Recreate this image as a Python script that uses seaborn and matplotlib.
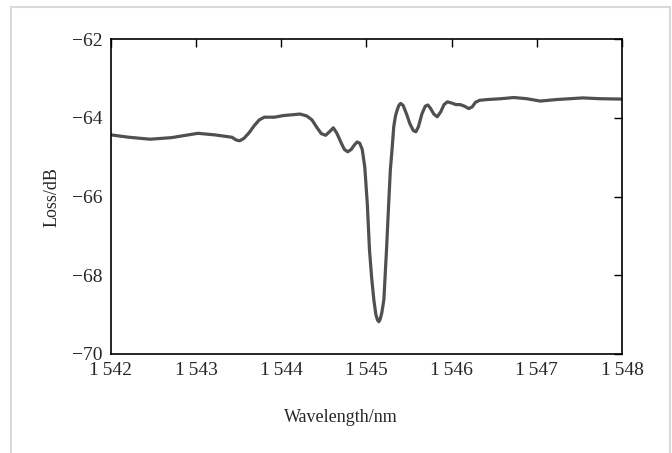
import numpy as np
import pandas as pd
import matplotlib
matplotlib.use('Agg')
import matplotlib.pyplot as plt
from matplotlib.patches import Rectangle
import seaborn as sns

sns.set_style('white')
plt.rcParams['font.family'] = ['Liberation Serif', 'DejaVu Serif']
plt.rcParams['axes.unicode_minus'] = True

# Traced loss spectrum (wavelength in nm, loss in dB)
wavelength = [1542.00, 1542.21, 1542.46, 1542.71, 1543.02, 1543.22, 1543.42, 1543.47,
              1543.51, 1543.56, 1543.62, 1543.68, 1543.74, 1543.80, 1543.92, 1544.02,
              1544.12, 1544.22, 1544.30, 1544.36, 1544.42, 1544.47, 1544.52, 1544.57,
              1544.61, 1544.65, 1544.70, 1544.74, 1544.78, 1544.82, 1544.86, 1544.89,
              1544.92, 1544.95, 1544.98, 1545.01, 1545.035, 1545.06, 1545.086, 1545.11,
              1545.13, 1545.145, 1545.16, 1545.18, 1545.204, 1545.235, 1545.26, 1545.28,
              1545.30, 1545.32, 1545.34, 1545.36, 1545.38, 1545.40, 1545.43, 1545.47,
              1545.51, 1545.55, 1545.58, 1545.61, 1545.65, 1545.69, 1545.72, 1545.75,
              1545.79, 1545.83, 1545.87, 1545.91, 1545.95, 1546.00, 1546.05, 1546.10,
              1546.15, 1546.20, 1546.24, 1546.28, 1546.33, 1546.43, 1546.58, 1546.73,
              1546.88, 1547.04, 1547.24, 1547.54, 1547.74, 1548.00]
loss = [-64.43, -64.49, -64.54, -64.50, -64.39, -64.43, -64.49, -64.56,
        -64.58, -64.52, -64.38, -64.20, -64.05, -63.98, -63.98, -63.94,
        -63.92, -63.90, -63.95, -64.05, -64.25, -64.40, -64.44, -64.34,
        -64.25, -64.38, -64.62, -64.80, -64.86, -64.80, -64.68, -64.61,
        -64.64, -64.80, -65.25, -66.20, -67.35, -68.05, -68.62, -69.00,
        -69.14, -69.18, -69.12, -68.95, -68.62, -67.35, -66.20, -65.32,
        -64.80, -64.22, -63.95, -63.80, -63.68, -63.63, -63.68, -63.90,
        -64.15, -64.32, -64.35, -64.22, -63.90, -63.70, -63.67, -63.75,
        -63.90, -63.97, -63.85, -63.66, -63.59, -63.62, -63.66, -63.66,
        -63.70, -63.76, -63.72, -63.60, -63.55, -63.53, -63.51, -63.48,
        -63.51, -63.57, -63.53, -63.49, -63.51, -63.52]

x_ticks = [1542, 1543, 1544, 1545, 1546, 1547, 1548]
x_labels = ['1\u2009542', '1\u2009543', '1\u2009544', '1\u2009545', '1\u2009546', '1\u2009547', '1\u2009548']
y_ticks = [-70, -68, -66, -64, -62]

df = pd.DataFrame({'Wavelength/nm': wavelength, 'Loss/dB': loss})

fig = plt.figure(figsize=(6.72, 4.53), dpi=100)
fig.patch.set_facecolor('white')
# light grey page frame
fig.patches.append(Rectangle((11 / 672, -0.05), 659 / 672, 1 - 7 / 453 + 0.05,
                             transform=fig.transFigure, fill=False,
                             edgecolor='#d9d9d9', linewidth=1.5))

ax = fig.add_axes([111 / 672, 1 - 354 / 453, 511 / 672, (354 - 39.3) / 453])
sns.lineplot(data=df, x='Wavelength/nm', y='Loss/dB', ax=ax,
             color='#505050', linewidth=2.3, sort=False)

ax.set_xlim(1542, 1548)
ax.set_ylim(-70, -62)
ax.set_xticks(x_ticks)
ax.set_xticklabels(x_labels)
ax.set_yticks(y_ticks)
ax.tick_params(direction='in', length=6, width=1, top=True, right=True,
               labelsize=14, pad=6, color='black')
for s in ax.spines.values():
    s.set_color('black')
    s.set_linewidth(1.2)

ax.set_xlabel('Wavelength/nm', fontsize=13)
ax.set_ylabel('Loss/dB', fontsize=13)
# label positions in axes coordinates
ax.xaxis.set_label_coords((341 - 111) / 511, -(417 - 354) / 314.7)
ax.yaxis.set_label_coords(-(111 - 52) / 511, 0.5)
ax.xaxis.label.set_va('center')
ax.yaxis.label.set_va('center')

fig.savefig('out.png', dpi=100, facecolor='white')
